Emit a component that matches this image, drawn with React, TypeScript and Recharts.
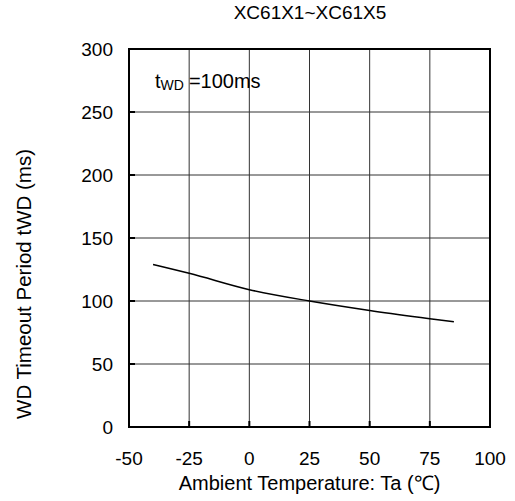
import { LineChart, Line, XAxis, YAxis, CartesianGrid, ReferenceArea, Label } from 'recharts';

const FONT = '"Liberation Sans", Arial, sans-serif';

// temperature (°C) vs WD timeout period (ms)
const temps = [-40, -25, 0, 25, 50, 75, 85];
const timeouts = [129, 122, 109, 100, 92.5, 86, 83.5];

const xTicks = [-50, -25, 0, 25, 50, 75, 100];
const yTicks = [0, 50, 100, 150, 200, 250, 300];

const title = 'XC61X1~XC61X5';
const xTitle = 'Ambient Temperature: Ta (\u2103)';
const yTitle = 'WD Timeout Period tWD (ms)';

export default function App() {
  const data = temps.map((t, i) => ({ ta: t, twd: timeouts[i] }));

  return (
    <div style={{ position: 'absolute', left: 0, top: 0, width: 515, height: 501, background: '#fff' }}>
      <LineChart
        width={515}
        height={501}
        data={data}
        margin={{ top: 49, right: 25, bottom: 0, left: 0 }}
        style={{ fontFamily: FONT }}
      >
        <CartesianGrid stroke="#333" strokeWidth={1} horizontalValues={yTicks} verticalValues={xTicks} />
        <XAxis
          dataKey="ta"
          type="number"
          domain={[-50, 100]}
          ticks={xTicks}
          height={74}
          axisLine={{ stroke: '#000', strokeWidth: 2 }}
          tickLine={{ stroke: '#000', strokeWidth: 2 }}
          tickSize={-6}
          tickMargin={31}
          tick={{ fill: '#000', fontSize: 19, fontFamily: FONT }}
        >
          <Label value={xTitle} position="insideBottom" offset={11} style={{ fill: '#000', fontSize: 20, fontFamily: FONT }} />
        </XAxis>
        <YAxis
          type="number"
          domain={[0, 300]}
          ticks={yTicks}
          width={129}
          axisLine={{ stroke: '#000', strokeWidth: 2 }}
          tickLine={{ stroke: '#000', strokeWidth: 2 }}
          tickSize={-6}
          tickMargin={22}
          tick={{ fill: '#000', fontSize: 19, fontFamily: FONT }}
        >
          <Label
            content={() => (
              <text
                x={31}
                y={284}
                transform="rotate(-90 31 284)"
                textAnchor="middle"
                fill="#000"
                fontSize={20.5}
                fontFamily={FONT}
              >
                {yTitle}
              </text>
            )}
          />
        </YAxis>
        <ReferenceArea x1={-50} x2={100} y1={0} y2={300} fill="none" stroke="#000" strokeWidth={2} ifOverflow="visible" />
        <Line
          dataKey="twd"
          type="monotone"
          stroke="#000"
          strokeWidth={1.5}
          dot={false}
          isAnimationActive={false}
        />
      </LineChart>
      <svg width={515} height={501} style={{ position: 'absolute', left: 0, top: 0, pointerEvents: 'none' }}>
        <text x={310} y={19} textAnchor="middle" fontSize={19} fontFamily={FONT} fill="#000">
          {title}
        </text>
        <text x={155} y={88} fontSize={20} fontFamily={FONT} fill="#000">
          t
          <tspan fontSize={14} dy={2}>WD</tspan>
          <tspan fontSize={20} dy={-2} dx={5}>=100ms</tspan>
        </text>
      </svg>
    </div>
  );
}
